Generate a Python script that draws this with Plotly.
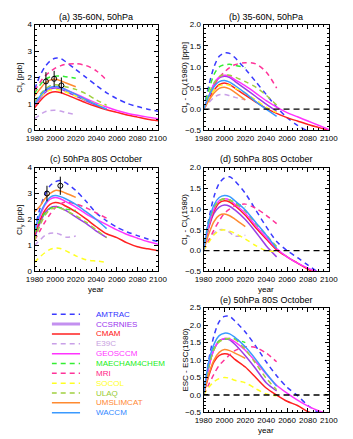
import plotly.graph_objects as go

W, H = 353, 439

MODELS = ["AMTRAC", "CCSRNIES", "CMAM", "E39C", "GEOSCCM", "MAECHAM4CHEM",
          "MRI", "SOCOL", "ULAQ", "UMSLIMCAT", "WACCM"]
COLORS = {"AMTRAC": "#3a3aff", "CCSRNIES": "#9a3ee6", "CMAM": "#ff2020",
          "E39C": "#c9a0e8", "GEOSCCM": "#ff33ff", "MAECHAM4CHEM": "#33ee33",
          "MRI": "#ff3399", "SOCOL": "#ffff22", "ULAQ": "#a0d040",
          "UMSLIMCAT": "#ff8a30", "WACCM": "#3a9aff"}
TEXT_COLORS = {"AMTRAC": "#3333ff", "CCSRNIES": "#9933ee", "CMAM": "#ff1111",
               "E39C": "#c8a0e0", "GEOSCCM": "#ff33ff", "MAECHAM4CHEM": "#22ee22",
               "MRI": "#ff2288", "SOCOL": "#ffff22", "ULAQ": "#99cc33",
               "UMSLIMCAT": "#ff8833", "WACCM": "#3388ff"}
LEGEND_LINE_COLORS = dict(COLORS, CCSRNIES="#c390f0")
DASHED = {"AMTRAC", "E39C", "MAECHAM4CHEM", "MRI", "SOCOL", "ULAQ"}
END_YEAR = {"AMTRAC": 2100, "CCSRNIES": 2050, "CMAM": 2100, "E39C": 2020,
            "GEOSCCM": 2100, "MAECHAM4CHEM": 2020, "MRI": 2050, "SOCOL": 2050,
            "ULAQ": 2050, "UMSLIMCAT": 2020, "WACCM": 2050}

YEARS = [1980, 1985, 1990, 1995, 2000, 2005, 2010, 2020, 2030, 2040, 2050,
         2060, 2070, 2080, 2090, 2100]

# (a) Cly 35-60N 50hPa [ppb]
PANEL_A = {
    "AMTRAC": [1.55, 2.05, 2.4, 2.62, 2.73, 2.72, 2.6, 2.3, 2.0, 1.7, 1.42, 1.2, 1.02, 0.9, 0.8, 0.72],
    "CCSRNIES": [0.95, 1.2, 1.42, 1.55, 1.6, 1.56, 1.48, 1.3, 1.12, 0.95, 0.8],
    "CMAM": [0.85, 1.1, 1.3, 1.42, 1.46, 1.43, 1.36, 1.2, 1.04, 0.9, 0.78, 0.68, 0.58, 0.5, 0.42, 0.36],
    "E39C": [0.45, 0.58, 0.7, 0.75, 0.76, 0.73, 0.68, 0.6],
    "GEOSCCM": [1.0, 1.25, 1.48, 1.6, 1.65, 1.62, 1.55, 1.38, 1.2, 1.03, 0.88, 0.75, 0.65, 0.57, 0.5, 0.44],
    "MAECHAM4CHEM": [1.4, 1.7, 1.92, 2.02, 2.05, 2.05, 2.03, 1.97],
    "MRI": [1.5, 1.8, 2.05, 2.22, 2.35, 2.44, 2.5, 2.52, 2.45, 2.25, 1.9],
    "SOCOL": [1.0, 1.25, 1.42, 1.52, 1.55, 1.52, 1.45, 1.3, 1.15, 1.0, 0.88],
    "ULAQ": [1.1, 1.35, 1.55, 1.68, 1.72, 1.7, 1.65, 1.55, 1.38, 1.15, 0.95],
    "UMSLIMCAT": [1.3, 1.55, 1.78, 1.9, 1.93, 1.88, 1.8, 1.65],
    "WACCM": [1.0, 1.28, 1.5, 1.62, 1.66, 1.62, 1.54, 1.36, 1.16, 0.97, 0.8],
}
# (b) Cly - Cly(1980), 35-60N 50hPa
PANEL_B = {
    "AMTRAC": [0, 0.55, 1.0, 1.25, 1.33, 1.32, 1.22, 0.95, 0.65, 0.35, 0.05, -0.2, -0.38, -0.52, -0.65, -0.75],
    "CCSRNIES": [0, 0.3, 0.58, 0.74, 0.78, 0.75, 0.66, 0.48, 0.3, 0.12, -0.05],
    "CMAM": [0, 0.25, 0.45, 0.58, 0.62, 0.58, 0.5, 0.33, 0.17, 0.02, -0.1, -0.2, -0.28, -0.36, -0.43, -0.5],
    "E39C": [0, 0.15, 0.28, 0.34, 0.35, 0.32, 0.28, 0.22],
    "GEOSCCM": [0, 0.3, 0.6, 0.76, 0.8, 0.78, 0.7, 0.55, 0.38, 0.2, 0.05, -0.08, -0.18, -0.28, -0.38, -0.48],
    "MAECHAM4CHEM": [0, 0.45, 0.82, 1.0, 1.05, 1.06, 1.04, 0.98],
    "MRI": [0, 0.3, 0.55, 0.75, 0.88, 0.98, 1.05, 1.1, 1.07, 0.88, 0.5],
    "SOCOL": [0, 0.25, 0.45, 0.55, 0.58, 0.56, 0.5, 0.38, 0.22, 0.05, -0.08],
    "ULAQ": [0, 0.35, 0.62, 0.77, 0.82, 0.8, 0.76, 0.65, 0.52, 0.33, 0.1],
    "UMSLIMCAT": [0, 0.2, 0.38, 0.49, 0.52, 0.48, 0.4, 0.22],
    "WACCM": [0, 0.3, 0.53, 0.65, 0.68, 0.64, 0.56, 0.38, 0.18, 0.0, -0.17],
}
# (c) Cly 50hPa 80S October [ppb]
PANEL_C = {
    "AMTRAC": [1.6, 2.4, 2.95, 3.3, 3.45, 3.5, 3.42, 3.12, 2.7, 2.25, 1.95, 1.7, 1.52, 1.38, 1.25, 1.15],
    "CCSRNIES": [1.3, 1.85, 2.25, 2.45, 2.5, 2.45, 2.35, 2.1, 1.85, 1.55, 1.3],
    "CMAM": [1.4, 1.95, 2.35, 2.58, 2.65, 2.62, 2.52, 2.3, 2.02, 1.72, 1.45, 1.3, 1.1, 0.95, 0.87, 0.8],
    "E39C": [1.0, 1.2, 1.38, 1.47, 1.48, 1.42, 1.32, 1.36],
    "GEOSCCM": [1.5, 2.1, 2.55, 2.78, 2.85, 2.8, 2.7, 2.48, 2.22, 2.0, 1.8, 1.6, 1.42, 1.28, 1.15, 1.05],
    "MAECHAM4CHEM": [1.5, 1.95, 2.25, 2.42, 2.48, 2.45, 2.4, 2.35],
    "MRI": [1.2, 1.55, 1.9, 2.2, 2.45, 2.6, 2.68, 2.6, 2.45, 2.25, 2.05],
    "SOCOL": [0.35, 0.55, 0.72, 0.85, 0.9, 0.88, 0.8, 0.6, 0.45, 0.4, 0.35],
    "ULAQ": [1.2, 1.75, 2.15, 2.38, 2.45, 2.43, 2.35, 2.15, 1.9, 1.6, 1.3],
    "UMSLIMCAT": [2.3, 2.5, 2.8, 3.0, 3.12, 3.1, 3.02, 2.85],
    "WACCM": [1.6, 2.2, 2.6, 2.85, 2.92, 2.88, 2.8, 2.58, 2.3, 2.0, 1.65],
}
# (d) Cly - Cly(1980), 50hPa 80S October
PANEL_D = {
    "AMTRAC": [0, 0.75, 1.3, 1.62, 1.75, 1.78, 1.68, 1.38, 0.98, 0.58, 0.22, 0.0, -0.17, -0.35, -0.52, -0.65],
    "CCSRNIES": [0, 0.55, 0.9, 1.05, 1.1, 1.07, 0.98, 0.75, 0.45, 0.12, -0.15],
    "CMAM": [0, 0.58, 0.95, 1.15, 1.2, 1.17, 1.08, 0.85, 0.55, 0.28, 0.02, -0.15, -0.3, -0.45, -0.55, -0.62],
    "E39C": [0, 0.25, 0.42, 0.5, 0.5, 0.44, 0.35, 0.37],
    "GEOSCCM": [0, 0.6, 1.0, 1.2, 1.25, 1.22, 1.12, 0.9, 0.6, 0.32, 0.05, -0.15, -0.3, -0.42, -0.52, -0.6],
    "MAECHAM4CHEM": [0, 0.7, 1.05, 1.2, 1.25, 1.22, 1.15, 1.05],
    "MRI": [0, 0.25, 0.5, 0.72, 0.9, 1.0, 1.08, 1.12, 1.02, 0.85, 0.65],
    "SOCOL": [0, 0.2, 0.38, 0.48, 0.5, 0.47, 0.42, 0.28, 0.12, 0.0, -0.02],
    "ULAQ": [0, 0.65, 1.05, 1.2, 1.25, 1.22, 1.15, 0.95, 0.65, 0.38, 0.1],
    "UMSLIMCAT": [0, 0.4, 0.7, 0.85, 0.88, 0.84, 0.76, 0.58],
    "WACCM": [0, 0.7, 1.1, 1.28, 1.33, 1.3, 1.2, 0.98, 0.68, 0.38, 0.05],
}
# (e) ESC - ESC(1980), 50hPa 80S October
PANEL_E = {
    "AMTRAC": [0, 1.0, 1.7, 2.1, 2.25, 2.25, 2.12, 1.8, 1.4, 0.95, 0.55, 0.22, -0.02, -0.3, -0.5, -0.65],
    "CCSRNIES": [0, 0.8, 1.3, 1.55, 1.6, 1.58, 1.45, 1.12, 0.75, 0.35, 0.12],
    "CMAM": [0, 0.55, 0.95, 1.13, 1.18, 1.15, 1.02, 0.8, 0.5, 0.2, 0.0, -0.18, -0.3, -0.48, -0.6, -0.7],
    "GEOSCCM": [0, 0.8, 1.3, 1.55, 1.62, 1.6, 1.52, 1.28, 0.95, 0.6, 0.28, 0.05, -0.15, -0.32, -0.45, -0.55],
    "MAECHAM4CHEM": [0, 0.85, 1.35, 1.55, 1.6, 1.62, 1.6, 1.5],
    "MRI": [0, 0.3, 0.6, 0.85, 1.0, 1.15, 1.27, 1.38, 1.36, 1.2, 0.95],
    "SOCOL": [0, 0.22, 0.38, 0.47, 0.5, 0.48, 0.42, 0.35, 0.18, 0.03, -0.02],
    "ULAQ": [0, 0.8, 1.3, 1.52, 1.6, 1.62, 1.6, 1.3, 0.9, 0.48, 0.15],
    "UMSLIMCAT": [0, 0.6, 1.0, 1.22, 1.3, 1.27, 1.2, 1.05],
    "WACCM": [0, 0.95, 1.45, 1.7, 1.77, 1.75, 1.65, 1.38, 1.02, 0.62, 0.25],
}

# observations
OBS_A_YEARS = [1991, 1999, 2006]
OBS_A_VALUES = [1.85, 1.95, 1.7]
OBS_A_ERR = [0.35, 0.3, 0.3]
OBS_C_YEARS = [1992, 2005]
OBS_C_VALUES = [3.0, 3.3]
OBS_C_ERR = [0.3, 0.35]

FONT = "Liberation Sans"

fig = go.Figure()


def fx(p):
    return p / W


def fy(p):
    return 1 - p / H


panels = [
    dict(n=1, data=PANEL_A, xd=(27, 157), yd=(21, 129), rng=[0, 4], dt=1, mdt=0.2, fmt="d",
         title="(a) 35-60N, 50hPa", ty=13, ytitle="Cl<sub>y</sub> [ppb]", ytx=12, zero=False,
         year=False, obs=(OBS_A_YEARS, OBS_A_VALUES, OBS_A_ERR)),
    dict(n=2, data=PANEL_B, xd=(205, 337), yd=(21, 129), rng=[-0.5, 2.0], dt=0.5, mdt=0.1, fmt=".1f",
         title="(b) 35-60N, 50hPa", ty=13, ytitle="Cl<sub>y</sub> - Cl<sub>y</sub>(1980) [ppb]", ytx=186,
         zero=True, year=False, obs=None),
    dict(n=3, data=PANEL_C, xd=(27, 157), yd=(167, 273), rng=[0, 4], dt=1, mdt=0.2, fmt="d",
         title="(c) 50hPa 80S October", ty=158, ytitle="Cl<sub>y</sub> [ppb]", ytx=12, zero=False,
         year=True, yy=291, obs=(OBS_C_YEARS, OBS_C_VALUES, OBS_C_ERR)),
    dict(n=4, data=PANEL_D, xd=(205, 337), yd=(167, 273), rng=[-0.5, 2.0], dt=0.5, mdt=0.1, fmt=".1f",
         title="(d) 50hPa 80S October", ty=158, ytitle="Cl<sub>y</sub> - Cl<sub>y</sub>(1980)", ytx=186,
         zero=True, year=True, yy=291, obs=None),
    dict(n=5, data=PANEL_E, xd=(205, 337), yd=(310, 417), rng=[-0.5, 2.5], dt=0.5, mdt=0.1, fmt=".1f",
         title="(e) 50hPa 80S October", ty=302, ytitle="ESC - ESC(1980)", ytx=186,
         zero=True, year=True, yy=435, obs=None),
]

annotations = []
for p in panels:
    n = p["n"]
    sx = "" if n == 1 else str(n)
    xref, yref = "x" + sx, "y" + sx
    axis_common = dict(showgrid=False, zeroline=False, showline=True, linecolor="black",
                       linewidth=1, mirror="ticks", ticks="inside", tickcolor="black",
                       tickfont=dict(family=FONT, size=8, color="black"))
    fig.update_layout(**{
        "xaxis" + sx: dict(axis_common, domain=[fx(p["xd"][0]), fx(p["xd"][1])], anchor=yref,
                           range=[1980, 2100], dtick=20, tick0=1980, ticklen=4,
                           minor=dict(dtick=5, tick0=1980, ticks="inside", ticklen=2, tickcolor="black")),
        "yaxis" + sx: dict(axis_common, domain=[fy(p["yd"][1]), fy(p["yd"][0])], anchor=xref,
                           range=p["rng"], dtick=p["dt"], tick0=0, tickformat=p["fmt"], ticklen=4,
                           minor=dict(dtick=p["mdt"], tick0=0, ticks="inside", ticklen=2, tickcolor="black")),
    })
    for m in MODELS:
        if m not in p["data"]:
            continue
        vals = p["data"][m]
        yrs = [y for y in YEARS if y <= END_YEAR[m]]
        fig.add_trace(go.Scatter(
            x=yrs, y=vals, xaxis=xref, yaxis=yref, mode="lines", showlegend=False,
            line=dict(color=COLORS[m], width=1.5, shape="spline", smoothing=0.8,
                      dash="5px,4px" if m in DASHED else "solid")))
    if p["zero"]:
        fig.add_trace(go.Scatter(x=[1980, 2100], y=[0, 0], xaxis=xref, yaxis=yref, mode="lines",
                                 showlegend=False, line=dict(color="black", width=1.3, dash="6px,4px")))
    if p["obs"]:
        ox, oy, oe = p["obs"]
        fig.add_trace(go.Scatter(
            x=ox, y=oy, xaxis=xref, yaxis=yref, mode="markers", showlegend=False,
            marker=dict(symbol="circle-open", size=5, color="black", line=dict(width=1)),
            error_y=dict(type="data", array=oe, color="black", thickness=1, width=0)))
    cx = (p["xd"][0] + p["xd"][1]) / 2
    annotations.append(dict(x=fx(cx), y=fy(p["ty"]), xref="paper", yref="paper", text=p["title"],
                            showarrow=False, xanchor="center", yanchor="middle",
                            font=dict(family=FONT, size=9, color="black")))
    cyy = (p["yd"][0] + p["yd"][1]) / 2
    annotations.append(dict(x=fx(p["ytx"]), y=fy(cyy), xref="paper", yref="paper", text=p["ytitle"],
                            showarrow=False, textangle=-90, xanchor="center", yanchor="middle",
                            font=dict(family=FONT, size=8, color="black")))
    if p["year"]:
        annotations.append(dict(x=fx(cx), y=fy(p["yy"]), xref="paper", yref="paper", text="year",
                                showarrow=False, xanchor="center", yanchor="middle",
                                font=dict(family=FONT, size=8, color="black")))

# custom legend
fig.update_layout(
    xaxis6=dict(domain=[fx(45), fx(75)], range=[0, 1], visible=False, anchor="y6"),
    yaxis6=dict(domain=[fy(422.3), fy(311.7)], range=[10.5, -0.5], visible=False, anchor="x6"),
)
for i, m in enumerate(MODELS):
    fig.add_trace(go.Scatter(
        x=[0, 1], y=[i, i], xaxis="x6", yaxis="y6", mode="lines", showlegend=False,
        line=dict(color=LEGEND_LINE_COLORS[m], width=3 if m == "CCSRNIES" else 1.5,
                  dash="5px,4px" if m in DASHED else "solid")))
    annotations.append(dict(x=fx(90), y=i, xref="paper", yref="y6", text=m, showarrow=False,
                            xanchor="left", yanchor="middle",
                            font=dict(family=FONT, size=8, color=TEXT_COLORS[m])))

fig.update_layout(width=W, height=H, margin=dict(l=0, r=0, t=0, b=0),
                  paper_bgcolor="white", plot_bgcolor="white", showlegend=False,
                  annotations=annotations)

fig.write_html("out.html")
